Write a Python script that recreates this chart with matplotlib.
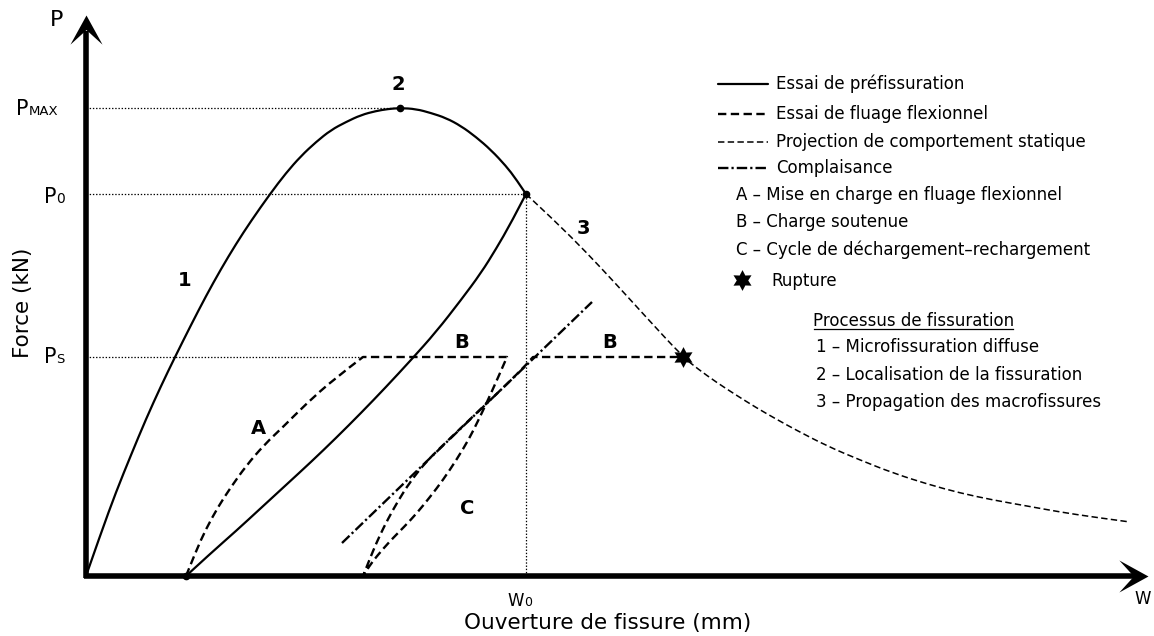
import matplotlib
matplotlib.use("Agg")
import matplotlib.pyplot as plt
from matplotlib.path import Path
from matplotlib.patches import PathPatch
import numpy as np

plt.rcParams['font.family'] = ['DejaVu Sans']
plt.rcParams['lines.scale_dashes'] = False

# ---------------- data (schematic units) ----------------
P_MAX = 468
P_0 = 382
P_S = 219
W_PEAK = 314
W_0 = 440
W_RES = 100
W_RUPT = 597

# pre-cracking test: loading up to P0 (post-peak), then unloading
pre_load_x = [0, 15, 30, 45, 60, 75, 89, 105, 120, 135, 150, 165, 184, 200, 215, 230, 245, 260,
              275, 290, 302, 314, 330, 345, 360, 375, 390, 405, 420, 430, 440]
pre_load_y = [0, 43, 84, 121, 157, 190, 219, 251, 280, 307, 332, 355, 382, 403, 420, 434, 446, 454,
              461, 465, 467, 468, 467, 463, 458, 450, 439, 426, 410, 397, 382]
pre_unload_x = [440, 425, 410, 395, 375, 350, 325, 300, 275, 250, 225, 200, 175, 150, 125, 100]
pre_unload_y = [382, 353, 327, 303, 276, 244, 216, 189, 163, 138, 114, 91, 68, 45, 23, 0]

# flexural creep test: A loading, B sustained load, C unload/reload, B sustained load
creep_A_x = [100, 110, 120, 132, 145, 160, 178, 198, 220, 248, 277]
creep_A_y = [0, 25, 47, 69, 89, 110, 131, 150, 172, 197, 219]
creep_B1_x = [277, 421]
creep_B1_y = [219, 219]
creep_Cu_x = [421, 411, 401, 392, 383, 371, 357, 344, 331, 318, 304, 291, 284, 277]
creep_Cu_y = [219, 196, 174, 155, 137, 117, 96, 79, 63, 49, 35, 20, 11, 0]
creep_Cr_x = [277, 281, 287, 294, 302, 312, 324, 339, 354, 377, 401, 421, 440, 447]
creep_Cr_y = [0, 10, 25, 41, 57, 75, 94, 113, 128, 150, 173, 192, 211, 219]
creep_B2_x = [447, 597]
creep_B2_y = [219, 219]

# projection of static behaviour (post-peak softening)
proj_x = [440, 470, 500, 530, 560, 597, 612, 630, 650, 670, 690, 710, 741, 774, 807, 841, 874,
          907, 941, 974, 1007, 1044]
proj_y = [382, 354, 324, 292, 259, 219, 207, 194, 181, 168.5, 157, 146, 130, 116, 103, 92, 83,
          76, 70, 64, 59, 54]

# compliance line
comp_x = [256, 506]
comp_y = [33, 274]

legend_lines = ["Essai de préfissuration", "Essai de fluage flexionnel",
                "Projection de comportement statique", "Complaisance"]
legend_letters = ["A – Mise en charge en fluage flexionnel", "B – Charge soutenue",
                  "C – Cycle de déchargement–rechargement"]
process_title = "Processus de fissuration"
process_items = ["1 – Microfissuration diffuse", "2 – Localisation de la fissuration",
                 "3 – Propagation des macrofissures"]

# ---------------- styles ----------------
solid = dict(color='black', lw=1.6, solid_joinstyle='round', solid_capstyle='round')
creep = dict(color='black', lw=1.7, linestyle=(0, (6, 3.2)), dash_joinstyle='round')
proj = dict(color='black', lw=1.1, linestyle=(0, (4.6, 2.4)))
dot = dict(color='black', lw=0.9, linestyle=(0, (1.0, 1.3)))
compl = dict(color='black', lw=1.7, linestyle=(0, (7.5, 2.2, 1.6, 2.2)))


def smooth_segment(xs, ys):
    """Quadratic B-spline path with the read points as control points."""
    pts = np.column_stack([xs, ys]).astype(float)
    verts, codes = [pts[0]], [Path.MOVETO]
    if len(pts) == 2:
        return verts + [pts[1]], codes + [Path.LINETO]
    for i in range(1, len(pts) - 1):
        end = (pts[i] + pts[i + 1]) / 2 if i < len(pts) - 2 else pts[i + 1]
        verts += [pts[i], end]
        codes += [Path.CURVE3, Path.CURVE3]
    return verts, codes


def smooth_path(*segments):
    verts, codes = [], []
    for k, (xs, ys) in enumerate(segments):
        v, c = smooth_segment(xs, ys)
        if k > 0:
            v, c = v[1:], c[1:]
        verts += v
        codes += c
    return Path(verts, codes)


def draw_curve(ax, segments, style, zorder=3):
    kw = dict(style)
    lw = kw.pop('lw')
    ls = kw.pop('linestyle', '-')
    color = kw.pop('color')
    patch = PathPatch(smooth_path(*segments), fill=False, edgecolor=color, lw=lw,
                      linestyle=ls, joinstyle='round', capstyle='butt', zorder=zorder)
    ax.add_patch(patch)


fig = plt.figure(figsize=(11.54, 6.36), dpi=100)
ax = fig.add_axes([0, 0, 1, 1])
ax.set_xlim(-86, 1068)
ax.set_ylim(-60, 576)
ax.axis('off')

# guide lines
ax.plot([0, W_PEAK], [P_MAX, P_MAX], **dot)
ax.plot([0, W_0], [P_0, P_0], **dot)
ax.plot([0, creep_A_x[-1]], [P_S, P_S], **dot)
ax.plot([W_0, W_0], [0, P_0], **dot)

# curves
draw_curve(ax, [(pre_load_x, pre_load_y), (pre_unload_x, pre_unload_y)], solid)
draw_curve(ax, [(creep_A_x, creep_A_y), (creep_B1_x, creep_B1_y), (creep_Cu_x, creep_Cu_y),
                (creep_Cr_x, creep_Cr_y), (creep_B2_x, creep_B2_y)], creep)
draw_curve(ax, [(proj_x, proj_y)], proj)
ax.plot(comp_x, comp_y, **compl)

# points
ax.plot([W_PEAK, W_0, W_RES], [P_MAX, P_0, 0], 'o', color='black', ms=4.5, zorder=6)
star = Path.unit_regular_star(6, 0.55)
ax.plot([W_RUPT], [P_S], marker=star, color='black', ms=15, mew=0, ls='none', zorder=7)

# axes with arrows
ax.plot([0, 0], [-2, 545], color='black', lw=4, solid_capstyle='butt', zorder=8)
ax.plot([-2, 1050], [0, 0], color='black', lw=4, solid_capstyle='butt', zorder=8)
head_right = Path([(0, 0), (-1, 0.55), (-0.5, 0), (-1, -0.55), (0, 0)],
                  [Path.MOVETO, Path.LINETO, Path.LINETO, Path.LINETO, Path.CLOSEPOLY])
head_up = Path([(0, 0), (-0.55, -1), (0, -0.5), (0.55, -1), (0, 0)],
               [Path.MOVETO, Path.LINETO, Path.LINETO, Path.LINETO, Path.CLOSEPOLY])
ax.plot([1062], [0], marker=head_right, ms=42, color='black', mew=0, ls='none', zorder=9)
ax.plot([0], [561], marker=head_up, ms=42, color='black', mew=0, ls='none', zorder=9)

# axis texts
ax.text(-29, 556, "P", fontsize=16, ha='center', va='center')
ax.text(1057, -23, "W", fontsize=12, ha='center', va='center')
ax.text(-70, P_MAX - 7, "P", fontsize=15, ha='left', va='baseline')
ax.text(-57, P_MAX - 7, "MAX", fontsize=9.5, ha='left', va='baseline')
ax.text(-42, P_0 - 9, "P", fontsize=15, ha='left', va='baseline')
ax.text(-30, P_0 - 9, "0", fontsize=10, ha='left', va='baseline')
ax.text(-42, P_S - 6, "P", fontsize=15, ha='left', va='baseline')
ax.text(-30, P_S - 6, "S", fontsize=9.5, ha='left', va='baseline')
ax.text(W_0 - 19, -30, "W", fontsize=12, ha='left', va='baseline')
ax.text(W_0 - 2, -30, "0", fontsize=9, ha='left', va='baseline')
ax.text(-63, 273, "Force (kN)", fontsize=15.5, rotation=90, ha='center', va='center')
ax.text(522, -47, "Ouverture de fissure (mm)", fontsize=15.5, ha='center', va='center')

# curve labels
lab = dict(fontsize=14, fontweight='bold', ha='center', va='center')
ax.text(99, 295, "1", **lab)
ax.text(312, 492, "2", **lab)
ax.text(497, 347, "3", **lab)
ax.text(172, 148, "A", **lab)
ax.text(376, 234, "B", **lab)
ax.text(524, 234, "B", **lab)
ax.text(381, 68, "C", **lab)

# legend
styles = [solid, creep, proj, compl]
rows = [492, 462, 434, 408]
for name, st, yy in zip(legend_lines, styles, rows):
    ax.plot([632, 682], [yy, yy], **st)
    ax.text(690, yy, name, fontsize=12, ha='left', va='center')
for name, yy in zip(legend_letters, [381, 354, 326]):
    ax.text(650, yy, name, fontsize=12, ha='left', va='center')
ax.plot([656], [296], marker=star, color='black', ms=15, mew=0, ls='none')
ax.text(685, 295, "Rupture", fontsize=12, ha='left', va='center')
t = ax.text(727, 250, process_title, fontsize=12, ha='left', va='baseline')
for name, yy in zip(process_items, [229, 201, 174]):
    ax.text(730, yy, name, fontsize=12, ha='left', va='center')

fig.canvas.draw()
bb = t.get_window_extent().transformed(ax.transData.inverted())
ax.plot([bb.x0 + 1, bb.x1 - 1], [247, 247], color='black', lw=0.9)

fig.savefig("out.png", dpi=100)
